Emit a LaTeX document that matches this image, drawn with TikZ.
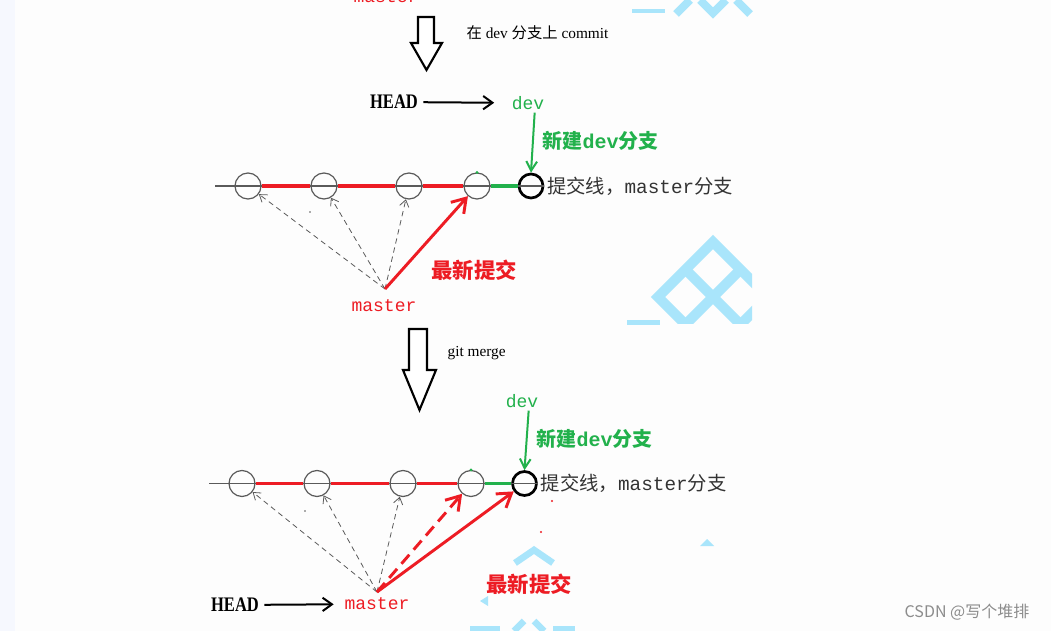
\documentclass[tikz,border=0pt]{standalone}
\usepackage{fontspec}
\setmainfont{Liberation Serif}
\newfontfamily\cjk{Noto Sans CJK SC}
\newfontfamily\mono{Liberation Mono}
\newfontfamily\headfont[FakeStretch=0.8]{Liberation Serif}
\usetikzlibrary{arrows.meta,shapes.geometric}
\definecolor{GitRed}{HTML}{ED1C24}
\definecolor{GitGreen}{HTML}{22B14C}
\definecolor{LineGray}{HTML}{5A5A5A}
\definecolor{TxtGray}{HTML}{333333}
\definecolor{MarkBlue}{HTML}{A9E5FB}
\definecolor{StripBlue}{HTML}{F6F8FE}
\definecolor{PageBg}{HTML}{FDFDFD}
\tikzset{
  every picture/.append style={x=0.75pt, y=-0.75pt},
  cmt/.style={ellipse, draw=LineGray, line width=0.9pt, minimum width=19.5pt,
              minimum height=19.5pt, inner sep=0pt},
  cur/.style={circle, draw=black, line width=2pt, minimum size=18pt, inner sep=0pt},
  base/.style={draw=LineGray, line width=0.8pt},
  redseg/.style={draw=GitRed, line width=2.4pt},
  grnseg/.style={draw=GitGreen, line width=2.4pt},
  ptr/.style={-{Straight Barb[length=7pt,width=10pt]}, line width=1.5pt, draw=black},
  oldref/.style={-{Straight Barb[length=5pt,width=7pt]}, dashed, dash pattern=on 4pt off 3pt,
                 line width=0.6pt, draw=LineGray},
  newref/.style={-{Straight Barb[length=10pt,width=13pt]}, line width=2.2pt, draw=GitRed},
  devref/.style={-{Straight Barb[length=7pt,width=8pt]}, line width=1.5pt, draw=GitGreen},
  hollow/.style={draw=black, line width=1.6pt, fill=white, line join=miter},
  hd/.style={font=\headfont\bfseries\fontsize{15.5}{16}\selectfont, inner sep=2pt},
  mst/.style={font=\mono\fontsize{13.5}{14}\selectfont, text=GitRed, inner sep=2pt},
  dvl/.style={font=\mono\fontsize{13.5}{14}\selectfont, text=GitGreen, inner sep=2pt},
  cl/.style={font=\cjk\fontsize{14.5}{15}\selectfont, text=TxtGray, inner sep=2pt},
  newl/.style={font=\cjk\bfseries\fontsize{15}{16}\selectfont, text=GitGreen, inner sep=1pt},
  hotl/.style={font=\cjk\bfseries\fontsize{16}{17}\selectfont, text=GitRed, inner sep=1pt},
  note/.style={font=\fontsize{11.5}{12}\selectfont, inner sep=1pt},
  wm/.style={font=\cjk\fontsize{12}{13}\selectfont, text=black!45, inner sep=1pt},
}

\begin{document}
\begin{tikzpicture}
\useasboundingbox (0,0) rectangle (1051,631);
\clip (0,0) rectangle (1051,631);
\fill[PageBg] (0,0) rectangle (1051,631);
\fill[StripBlue] (0,0) rectangle (15,631);

% ---------------- watermark pieces ------------------------------------------------
\begin{scope}[MarkBlue]
  \fill (632,9) rectangle (665,13);
  \draw[line width=6pt] (676,14) -- (690,0) (700,0) -- (713,13) -- (726,0) (736,0) -- (750,14);
  \begin{scope}
    \clip (600,230) rectangle (752,324);
    \draw[line width=7.5pt, line join=miter] (713,242) -- (768,297) -- (713,352) -- (658,297) -- cycle;
    \draw[line width=7.5pt] (685.5,269.5) -- (740.5,324.5) (740.5,269.5) -- (685.5,324.5);
  \end{scope}
  \fill (627,320) rectangle (660,325);
  \draw[line width=5pt] (515,563) -- (534,550) -- (553,563);
  \fill (700,546) -- (707,539) -- (714,546) -- cycle;
  \fill (488,596) -- (480,601) -- (488,606) -- cycle;
  \fill (470,626) rectangle (500,631);
  \draw[line width=5pt] (514,631) -- (524,621) (534,621) -- (544,631);
  \fill (553,626) rectangle (575,631);
\end{scope}

% ---------------- top: commit on dev ----------------------------------------------
\node[mst, anchor=base] (m0) at (386,3) {master};
\draw[hollow] (418,17) -- (434,17) -- (434,43) -- (442,43) -- (426.5,70) -- (411,43) -- (418,43) -- cycle;
\node[note, anchor=west] (t1) at (465,33) {{\cjk 在} dev {\cjk 分支上} commit};

\node[hd] (h1) at (394,102) {HEAD};
\node[dvl] (d1) at (528,103) {dev};
\draw[ptr, shorten <=2pt, shorten >=11pt] (h1) -- (d1);

\coordinate (a0) at (215,186);
\node[cmt] (a1) at (248,186) {};
\node[cmt] (a2) at (324,186) {};
\node[cmt] (a3) at (409,186) {};
\node[cmt] (a4) at (477,186) {};
\node[cur] (a5) at (531,186) {};
\draw[base] (a0) -- (a5.east);
\draw[redseg] (a1.east) -- (a2.west) (a2.east) -- (a3.west) (a3.east) -- (a4.west);
\draw[grnseg] (a4.east) -- (a5.west);
\fill[GitGreen] (a4.north) circle (1.2pt);
\node[cl, anchor=west] (l1) at (a5.east) {提交线，{\mono master}分支};

\draw[devref] ([xshift=5pt]d1.south) -- (a5.north);
\node[newl, anchor=west] (n1) at (541,141) {新建{\mono\bfseries dev}分支};

\node[mst] (m1) at (384,306) {master};
\coordinate (o1) at (385,289);
\foreach \c in {a1,a2,a3}{
  \draw[oldref] (o1) -- (\c);}
\draw[newref] (o1) -- (a4);
\node[hotl] (r1) at (474,270) {最新提交};
\fill[LineGray] (310,212) circle (0.6pt);

% ---------------- bottom: git merge ------------------------------------------------
\draw[hollow] (409,329) -- (427,329) -- (427,370) -- (436,370) -- (419.5,410) -- (403,370) -- (409,370) -- cycle;
\node[note, anchor=west] (t2) at (446,353) {git merge};

\node[dvl] (d2) at (522,401) {dev};
\node[newl, anchor=west] (n2) at (535,439) {新建{\mono\bfseries dev}分支};

\coordinate (b0) at (209,483.5);
\node[cmt] (b1) at (242,483.5) {};
\node[cmt] (b2) at (317,483.5) {};
\node[cmt] (b3) at (403,483.5) {};
\node[cmt] (b4) at (471,483.5) {};
\node[cur] (b5) at (524.5,483.5) {};
\draw[base] (b0) -- (b5.east);
\draw[redseg] (b1.east) -- (b2.west) (b2.east) -- (b3.west) (b3.east) -- (b4.west);
\draw[grnseg] (b4.east) -- (b5.west);
\fill[GitGreen] (b4.north) circle (1.2pt);
\node[cl, anchor=west] (l2) at (b5.east) {提交线，{\mono master}分支};
\draw[devref] ([xshift=5pt]d2.south) -- (b5.north);

\node[mst] (m2) at (377,604) {master};
\coordinate (o2) at (377,592);
\foreach \c in {b1,b2,b3}{
  \draw[oldref] (o2) -- (\c);}
\draw[newref, dash pattern=on 9pt off 5pt] (o2) -- (b4);
\draw[newref] (o2) -- (b5);
\node[hotl] (r2) at (529,584) {最新提交};
\node[hd] (h2) at (235,605) {HEAD};
\draw[ptr, shorten <=2pt, shorten >=6pt] (h2) -- (m2);
\fill[LineGray] (305,511) circle (0.6pt);
\fill[GitRed] (552,501) circle (0.9pt);
\fill[GitRed] (541,532) circle (0.9pt);

% ---------------- site mark ------------------------------------------------------------
\node[wm] (cs) at (967,612) {CSDN @写个堆排};

\end{tikzpicture}
\end{document}
